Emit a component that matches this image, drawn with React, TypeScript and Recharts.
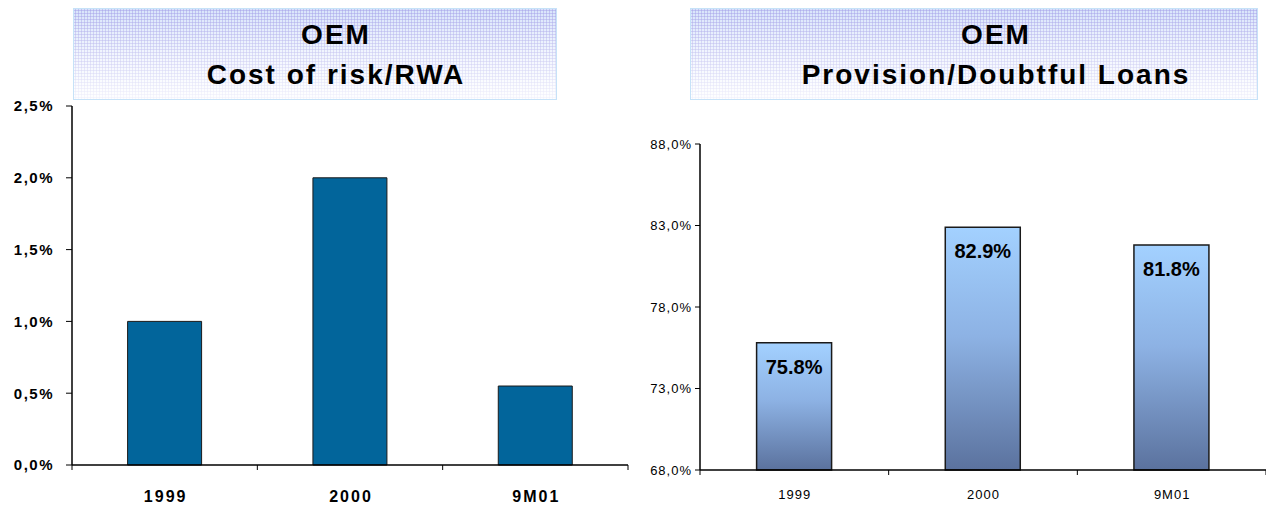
import { BarChart, Bar, XAxis, YAxis, LabelList } from 'recharts';

const categories = ['1999', '2000', '9M01'];
const costOfRisk = [1.0, 2.0, 0.55];
const costTicks = [0, 0.5, 1, 1.5, 2, 2.5];
const provisionRatio = [75.8, 82.9, 81.8];
const provisionTicks = [68, 73, 78, 83, 88];

const FONT = '"Liberation Sans", Arial, sans-serif';

const leftData = categories.map((c, i) => ({ name: c, value: costOfRisk[i] }));
const rightData = categories.map((c, i) => ({ name: c, value: provisionRatio[i] }));

const comma = (v: number) => `${v.toFixed(1).replace('.', ',')}%`;

function BoundaryTick(props: any) {
  const { x, y, payload, index, bold, fontSize, spacing, textDy } = props;
  const half = payload?.offset ?? 0;
  return (
    <g>
      {index === 0 && <line x1={x - half} x2={x - half} y1={y} y2={y + 5} stroke="#000" />}
      <line x1={x + half} x2={x + half} y1={y} y2={y + 5} stroke="#000" />
      <text
        x={x + spacing / 2}
        y={y + textDy}
        textAnchor="middle"
        fontFamily={FONT}
        fontSize={fontSize}
        fontWeight={bold ? 700 : 400}
        letterSpacing={spacing}
        fill="#000"
      >
        {payload.value}
      </text>
    </g>
  );
}

function TitleBox({ left, width, center, line2 }: { left: number; width: number; center: number; line2: string }) {
  const textStyle = {
    position: 'absolute' as const,
    left: center - 300,
    width: 600,
    textAlign: 'center' as const,
    fontFamily: FONT,
    fontWeight: 700,
    fontSize: 28,
    letterSpacing: 2,
    color: '#000',
    lineHeight: '30px',
  };
  return (
    <>
      <div
        style={{
          position: 'absolute',
          left,
          top: 8,
          width,
          height: 92,
          boxSizing: 'border-box',
          border: '1px solid #c6e2f8',
          backgroundImage:
            'linear-gradient(to bottom, rgba(255,255,255,0) 0%, rgba(255,255,255,0.85) 100%), radial-gradient(circle, #b0b0ec 0.9px, rgba(0,0,0,0) 1.2px), linear-gradient(to bottom, #d8e4fb, #f6f9ff)',
          backgroundSize: '100% 100%, 3px 3px, 100% 100%',
        }}
      />
      <div style={{ ...textStyle, top: 20 }}>OEM</div>
      <div style={{ ...textStyle, top: 60 }}>{line2}</div>
    </>
  );
}

export default function App() {
  return (
    <div style={{ position: 'absolute', left: 0, top: 0, width: 1266, height: 509, background: '#fff', overflow: 'hidden' }}>
      <TitleBox left={73} width={484} center={336} line2="Cost of risk/RWA" />
      <TitleBox left={690} width={568} center={996} line2="Provision/Doubtful Loans" />

      <div style={{ position: 'absolute', left: 0, top: 0 }}>
        <BarChart width={640} height={509} data={leftData} margin={{ top: 106, right: 12, left: 12, bottom: 14 }} barCategoryGap="30%">
          <YAxis
            width={60}
            domain={[0, 2.5]}
            ticks={costTicks}
            tickFormatter={comma}
            tick={{ fill: '#000', fontSize: 15, fontWeight: 700, fontFamily: FONT, letterSpacing: 1.5 }}
            axisLine={{ stroke: '#000', strokeWidth: 1.5 }}
            tickLine={{ stroke: '#000' }}
            tickSize={6}
            tickMargin={12}
          />
          <XAxis
            dataKey="name"
            height={30}
            tickSize={0}
            tickMargin={0}
            tickLine={false}
            axisLine={{ stroke: '#000', strokeWidth: 1.5 }}
            tick={<BoundaryTick bold fontSize={16} spacing={2} textDy={37} />}
          />
          <Bar dataKey="value" fill="#02659b" stroke="#1a1a1a" strokeWidth={1} isAnimationActive={false} />
        </BarChart>
      </div>

      <div style={{ position: 'absolute', left: 640, top: 0 }}>
        <BarChart width={626} height={509} data={rightData} margin={{ top: 144, right: 0, left: 10, bottom: 9 }} barCategoryGap="30%">
          <defs>
            <linearGradient id="provGrad" x1="0" y1="0" x2="0" y2="1">
              <stop offset="0%" stopColor="#a3d1ff" />
              <stop offset="45%" stopColor="#8db2e4" />
              <stop offset="100%" stopColor="#5b729e" />
            </linearGradient>
          </defs>
          <YAxis
            width={50}
            domain={[68, 88]}
            ticks={provisionTicks}
            tickFormatter={comma}
            tick={{ fill: '#000', fontSize: 13, fontFamily: FONT, letterSpacing: 1 }}
            axisLine={{ stroke: '#000', strokeWidth: 1.5 }}
            tickLine={{ stroke: '#000' }}
            tickSize={5}
            tickMargin={3}
          />
          <XAxis
            dataKey="name"
            height={30}
            tickSize={0}
            tickMargin={0}
            tickLine={false}
            axisLine={{ stroke: '#000', strokeWidth: 1.5 }}
            tick={<BoundaryTick fontSize={13} spacing={1} textDy={29} />}
          />
          <Bar dataKey="value" fill="url(#provGrad)" stroke="#1a1a1a" strokeWidth={1.5} isAnimationActive={false}>
            <LabelList
              dataKey="value"
              position="insideTop"
              offset={17}
              formatter={(v: any) => `${Number(v).toFixed(1)}%`}
              style={{ fill: '#000', fontSize: 20, fontWeight: 700, fontFamily: FONT }}
            />
          </Bar>
        </BarChart>
      </div>
    </div>
  );
}
